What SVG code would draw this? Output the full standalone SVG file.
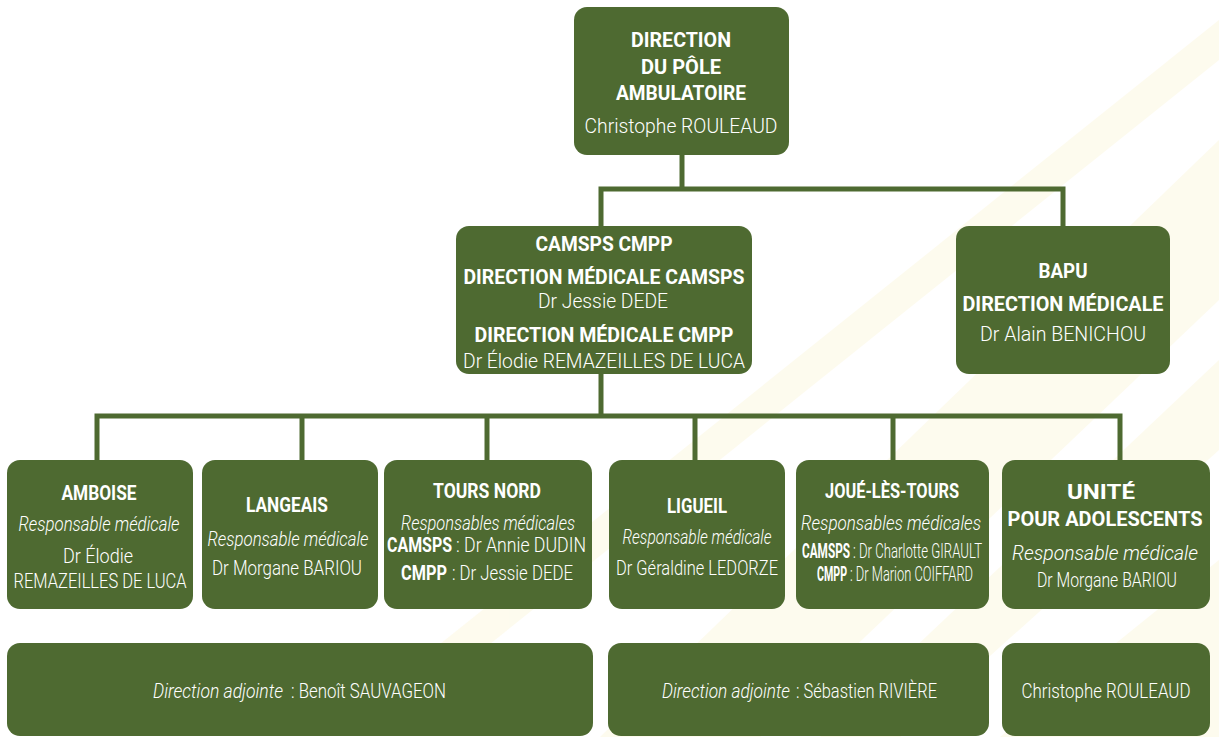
<svg xmlns="http://www.w3.org/2000/svg" width="1219" height="737" viewBox="0 0 1219 737">
<defs>
<style>
.box{fill:#4e6a31}
.ln{fill:none;stroke:#4e6a31;stroke-width:5;stroke-linejoin:miter;stroke-linecap:butt}
text{font-family:Roboto,"Liberation Sans",sans-serif;fill:#ffffff;text-anchor:middle}
.b{font-weight:700;font-size:20px}
.r{font-weight:300;font-size:20px}
.i{font-weight:300;font-style:italic;font-size:20px}
.s{text-anchor:start}
.band{fill:#fbf3c8}
</style>
</defs>
<rect width="1219" height="737" fill="#ffffff"/>
<g id="background" opacity="0.3">
<polygon class="band" points="600,737 760,737 1219,300 1219,140"/>
<polygon class="band" points="820,737 900,737 1219,450 1219,360"/>
<polygon class="band" points="420,660 470,660 1219,60 1219,20"/>
<polygon class="band" points="1000,737 1219,737 1219,560"/>
</g>
<g id="connectors">
<path class="ln" d="M682 155 V189"/>
<path class="ln" d="M601 226 V189 H1063 V226"/>
<path class="ln" d="M601 374 V416"/>
<path class="ln" d="M97 460 V416 H1120 V460"/>
<path class="ln" d="M302 416 V460"/>
<path class="ln" d="M487 416 V460"/>
<path class="ln" d="M695 416 V460"/>
<path class="ln" d="M893 416 V460"/>
</g>
<g id="direction">
<rect class="box" x="574" y="7" width="215" height="148" rx="13"/>
<text class="b" x="681" y="47" textLength="100" lengthAdjust="spacingAndGlyphs">DIRECTION</text>
<text class="b" x="681" y="74" textLength="80" lengthAdjust="spacingAndGlyphs">DU PÔLE</text>
<text class="b" x="681" y="100" textLength="130" lengthAdjust="spacingAndGlyphs">AMBULATOIRE</text>
<text class="r" x="681" y="133" font-size="22" textLength="193" lengthAdjust="spacingAndGlyphs">Christophe ROULEAUD</text>
</g>
<g id="camsps-cmpp">
<rect class="box" x="456" y="226" width="296" height="148" rx="13"/>
<text class="b" x="604" y="251" textLength="137" lengthAdjust="spacingAndGlyphs">CAMSPS CMPP</text>
<text class="b" x="604" y="284" textLength="281" lengthAdjust="spacingAndGlyphs">DIRECTION MÉDICALE CAMSPS</text>
<text class="r" x="603" y="308" textLength="130" lengthAdjust="spacingAndGlyphs">Dr Jessie DEDE</text>
<text class="b" x="604" y="342" textLength="259" lengthAdjust="spacingAndGlyphs">DIRECTION MÉDICALE CMPP</text>
<text class="r" x="604" y="368" textLength="282" lengthAdjust="spacingAndGlyphs">Dr Élodie REMAZEILLES DE LUCA</text>
</g>
<g id="bapu">
<rect class="box" x="956" y="226" width="214" height="148" rx="13"/>
<text class="b" x="1063" y="278" textLength="49" lengthAdjust="spacingAndGlyphs">BAPU</text>
<text class="b" x="1063" y="311" textLength="201" lengthAdjust="spacingAndGlyphs">DIRECTION MÉDICALE</text>
<text class="r" x="1063" y="341" textLength="166" lengthAdjust="spacingAndGlyphs">Dr Alain BENICHOU</text>
</g>
<g id="amboise">
<rect class="box" x="7" y="460" width="186" height="149" rx="13"/>
<text class="b" x="99" y="500" textLength="75" lengthAdjust="spacingAndGlyphs">AMBOISE</text>
<text class="i" x="99" y="531" textLength="161" lengthAdjust="spacingAndGlyphs">Responsable médicale</text>
<text class="r" x="98" y="563" textLength="70" lengthAdjust="spacingAndGlyphs">Dr Élodie</text>
<text class="r" x="100" y="588" textLength="173" lengthAdjust="spacingAndGlyphs">REMAZEILLES DE LUCA</text>
</g>
<g id="langeais">
<rect class="box" x="202" y="460" width="176" height="149" rx="13"/>
<text class="b" x="287" y="512" textLength="82" lengthAdjust="spacingAndGlyphs">LANGEAIS</text>
<text class="i" x="288" y="546" textLength="161" lengthAdjust="spacingAndGlyphs">Responsable médicale</text>
<text class="r" x="287" y="575" textLength="150" lengthAdjust="spacingAndGlyphs">Dr Morgane BARIOU</text>
</g>
<g id="tours-nord">
<rect class="box" x="384" y="460" width="208" height="149" rx="13"/>
<text class="b" x="487" y="498" textLength="108" lengthAdjust="spacingAndGlyphs">TOURS NORD</text>
<text class="i" x="488" y="530" textLength="174" lengthAdjust="spacingAndGlyphs">Responsables médicales</text>
<text class="b s" x="387" y="552" textLength="65" lengthAdjust="spacingAndGlyphs">CAMSPS</text>
<text class="r s" x="456" y="552" textLength="130" lengthAdjust="spacingAndGlyphs">: Dr Annie DUDIN</text>
<text class="b s" x="401" y="580" textLength="46" lengthAdjust="spacingAndGlyphs">CMPP</text>
<text class="r s" x="452" y="580" textLength="121" lengthAdjust="spacingAndGlyphs">: Dr Jessie DEDE</text>
</g>
<g id="ligueil">
<rect class="box" x="609" y="460" width="176" height="149" rx="13"/>
<text class="b" x="697" y="513" textLength="60" lengthAdjust="spacingAndGlyphs">LIGUEIL</text>
<text class="i" x="697" y="544" font-size="19" textLength="149" lengthAdjust="spacingAndGlyphs">Responsable médicale</text>
<text class="r" x="697" y="575" font-size="19" textLength="162" lengthAdjust="spacingAndGlyphs">Dr Géraldine LEDORZE</text>
</g>
<g id="joue-les-tours">
<rect class="box" x="796" y="460" width="193" height="149" rx="13"/>
<text class="b" x="892" y="498" textLength="134" lengthAdjust="spacingAndGlyphs">JOUÉ-LÈS-TOURS</text>
<text class="i" x="891" y="530" textLength="180" lengthAdjust="spacingAndGlyphs">Responsables médicales</text>
<text class="b s" x="802" y="558" font-size="17" textLength="48" lengthAdjust="spacingAndGlyphs">CAMSPS</text>
<text class="r s" x="853" y="558" font-size="17" textLength="129" lengthAdjust="spacingAndGlyphs">: Dr Charlotte GIRAULT</text>
<text class="b s" x="817" y="581" font-size="17" textLength="30" lengthAdjust="spacingAndGlyphs">CMPP</text>
<text class="r s" x="850" y="581" font-size="17" textLength="123" lengthAdjust="spacingAndGlyphs">: Dr Marion COIFFARD</text>
</g>
<g id="unite-adolescents">
<rect class="box" x="1002" y="460" width="208" height="149" rx="13"/>
<text class="b" x="1101" y="499" textLength="68" lengthAdjust="spacingAndGlyphs">UNITÉ</text>
<text class="b" x="1105" y="526" textLength="195" lengthAdjust="spacingAndGlyphs">POUR ADOLESCENTS</text>
<text class="i" x="1105" y="560" font-size="21" textLength="186" lengthAdjust="spacingAndGlyphs">Responsable médicale</text>
<text class="r" x="1107" y="587" textLength="140" lengthAdjust="spacingAndGlyphs">Dr Morgane BARIOU</text>
</g>
<g id="adjointe-1">
<rect class="box" x="7" y="643" width="586" height="93" rx="13"/>
<text class="i s" x="153" y="698" font-size="19" textLength="130" lengthAdjust="spacingAndGlyphs">Direction adjointe</text>
<text class="r s" x="291" y="698" font-size="19" textLength="155" lengthAdjust="spacingAndGlyphs">: Benoît SAUVAGEON</text>
</g>
<g id="adjointe-2">
<rect class="box" x="608" y="643" width="381" height="93" rx="13"/>
<text class="i s" x="662" y="698" font-size="19" textLength="128" lengthAdjust="spacingAndGlyphs">Direction adjointe</text>
<text class="r s" x="796" y="698" font-size="19" textLength="141" lengthAdjust="spacingAndGlyphs">: Sébastien RIVIÈRE</text>
</g>
<g id="adjointe-3">
<rect class="box" x="1002" y="643" width="208" height="93" rx="13"/>
<text class="r" x="1106" y="698" font-size="19" textLength="169" lengthAdjust="spacingAndGlyphs">Christophe ROULEAUD</text>
</g>
</svg>
